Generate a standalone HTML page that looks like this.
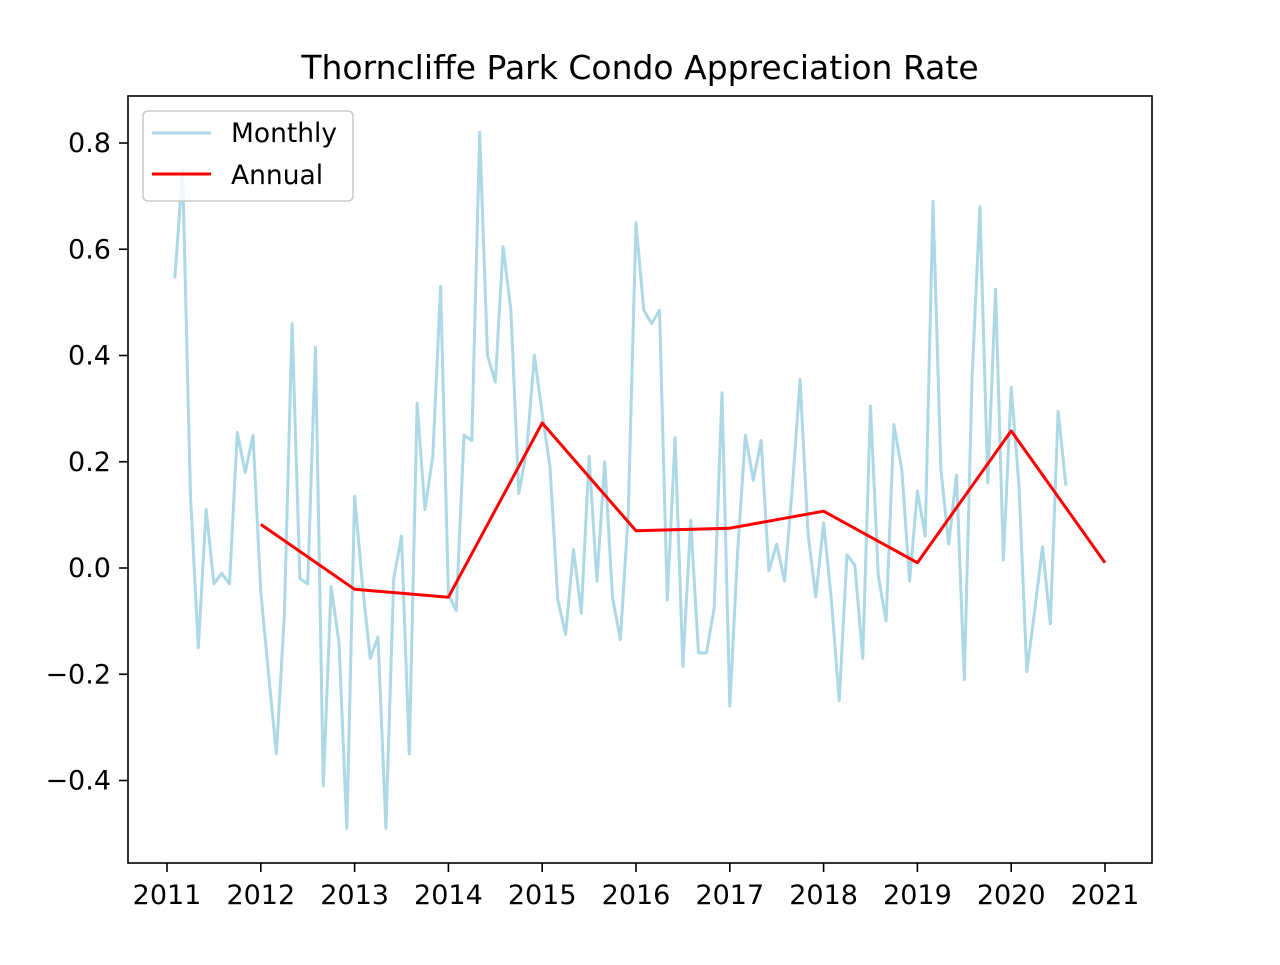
<!DOCTYPE html>
<html><head><meta charset="utf-8"><style>
body{margin:0;background:#fff}
svg text{font-family:"DejaVu Sans","Liberation Sans",sans-serif}
</style></head><body>
<svg id="c" width="1280" height="960" xmlns="http://www.w3.org/2000/svg">
<rect width="1280" height="960" fill="#fff"/>
<text x="640" y="79" font-size="33" text-anchor="middle">Thorncliffe Park Condo Appreciation Rate</text>
<g id="plot"></g>
<rect x="128" y="96" width="1024" height="767" fill="none" stroke="#000" stroke-width="1.6"/>
<g>
<rect x="143" y="111" width="210" height="90" rx="5" fill="#fff" fill-opacity="0.8" stroke="#ccc" stroke-width="1.6"/>
<line x1="152" y1="133" x2="211" y2="133" stroke="#add8e6" stroke-width="3"/>
<text x="231" y="142" font-size="26.5">Monthly</text>
<line x1="152" y1="174" x2="211" y2="174" stroke="#ff0000" stroke-width="3"/>
<text x="231" y="184" font-size="26.5">Annual</text>
</g>
</svg>
<script>
const monthly=[0.545,0.75,0.14,-0.15,0.11,-0.03,-0.01,-0.03,0.255,0.18,0.25,-0.045,-0.2,-0.35,-0.09,0.46,-0.02,-0.03,0.415,-0.41,-0.035,-0.14,-0.49,0.135,-0.03,-0.17,-0.13,-0.49,-0.02,0.06,-0.35,0.31,0.11,0.21,0.53,-0.05,-0.08,0.25,0.24,0.82,0.40,0.35,0.605,0.485,0.14,0.22,0.40,0.29,0.19,-0.06,-0.125,0.035,-0.085,0.21,-0.025,0.20,-0.055,-0.135,0.10,0.65,0.485,0.46,0.485,-0.06,0.245,-0.185,0.09,-0.16,-0.16,-0.075,0.33,-0.26,0.03,0.25,0.165,0.24,-0.005,0.045,-0.025,0.15,0.355,0.065,-0.055,0.085,-0.06,-0.25,0.025,0.005,-0.17,0.305,-0.015,-0.1,0.27,0.185,-0.025,0.145,0.06,0.69,0.185,0.045,0.175,-0.21,0.36,0.68,0.16,0.525,0.015,0.34,0.155,-0.195,-0.08,0.04,-0.105,0.295,0.155];
const monthlyStart=2011+1/12;
const annualYears=[2012,2013,2014,2015,2016,2017,2018,2019,2020,2021];
const annual=[0.082,-0.04,-0.055,0.273,0.07,0.075,0.107,0.01,0.258,0.01];
const xTicks=[2011,2012,2013,2014,2015,2016,2017,2018,2019,2020,2021];
const yTicks=[-0.4,-0.2,0,0.2,0.4,0.6,0.8];
const X=t=>167+(t-2011)*93.8;
const Y=v=>568-v*531.25;
const NS='http://www.w3.org/2000/svg';
const g=document.getElementById('plot');
function mk(tag,at){const e=document.createElementNS(NS,tag);for(const k in at)e.setAttribute(k,at[k]);g.appendChild(e);return e;}
xTicks.forEach(t=>{
 const l=mk('line',{x1:X(t),x2:X(t),y1:863,y2:872,stroke:'#000','stroke-width':1.6});
 
 
 const tx=mk('text',{x:X(t),y:904,'font-size':27,'text-anchor':'middle'});
 tx.textContent=t;
 
 
});
yTicks.forEach(v=>{
 const l=mk('line',{x1:119,x2:128,y1:Y(v),y2:Y(v),stroke:'#000','stroke-width':1.6});
 
 
 const tx=mk('text',{x:111,y:Y(v)+9,'font-size':27,'text-anchor':'end'});
 tx.textContent=(v<0?'\u2212':'')+Math.abs(v).toFixed(1);
 
 
});
const mp=monthly.map((v,i)=>X(monthlyStart+i/12).toFixed(1)+','+Y(v).toFixed(1)).join(' ');
const ml=mk('polyline',{points:mp,fill:'none',stroke:'#add8e6','stroke-width':3,'stroke-linejoin':'round'});


const ap=annual.map((v,i)=>X(annualYears[i]).toFixed(1)+','+Y(v).toFixed(1)).join(' ');
const al=mk('polyline',{points:ap,fill:'none',stroke:'#ff0000','stroke-width':3,'stroke-linejoin':'round'});


</script>
</body></html>
